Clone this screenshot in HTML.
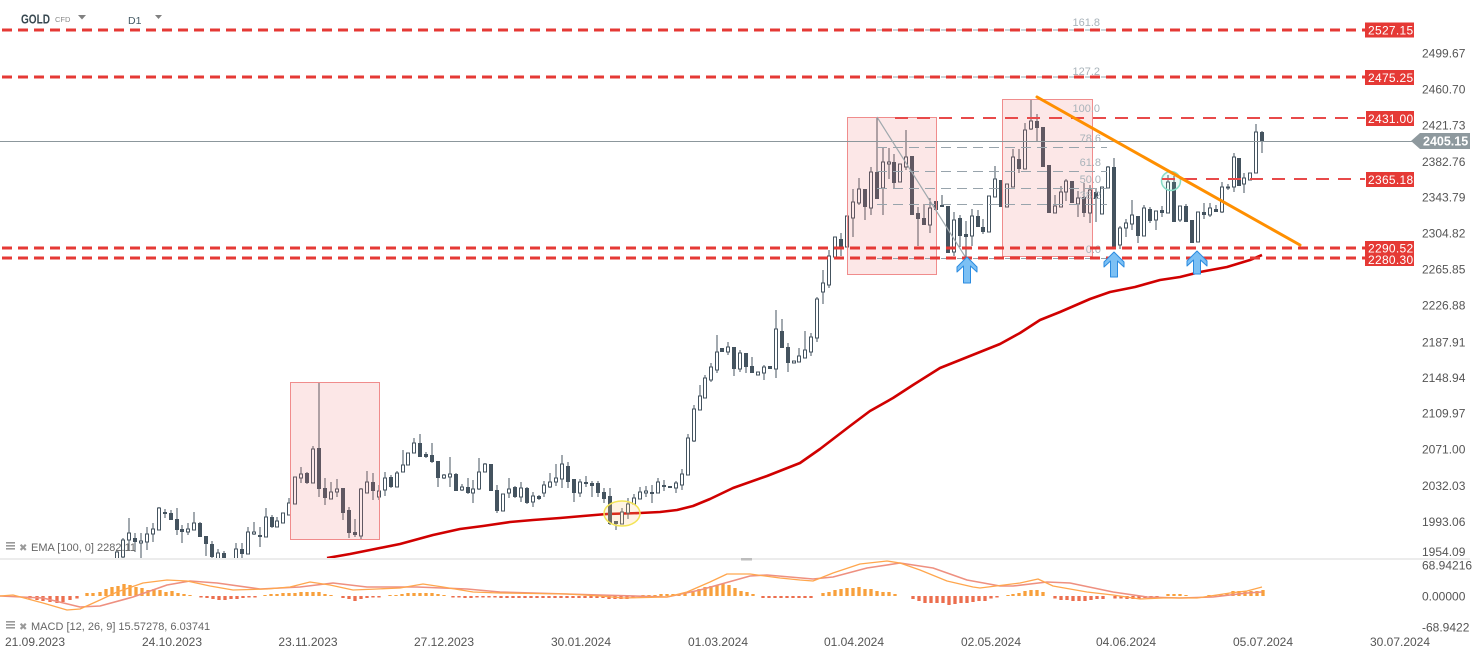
<!DOCTYPE html>
<html><head><meta charset="utf-8"><style>
html,body{margin:0;padding:0;background:#fff;overflow:hidden;}
svg{display:block;font-family:"Liberation Sans",Arial,sans-serif;}
</style></head><body>
<svg width="1482" height="658" viewBox="0 0 1482 658" xmlns="http://www.w3.org/2000/svg">
<defs><clipPath id="main"><rect x="0" y="0" width="1415" height="558"/></clipPath></defs>
<rect width="1482" height="658" fill="#fff"/>

<!-- header -->
<text x="21" y="23.5" font-size="12.5" font-weight="bold" fill="#37474f" textLength="29" lengthAdjust="spacingAndGlyphs">GOLD</text>
<text x="55" y="22" font-size="7.5" fill="#8a8a8a">CFD</text>
<polygon points="78,15 86,15 82,19.5" fill="#808080"/>
<text x="128" y="24" font-size="10.5" fill="#455a64">D1</text>
<polygon points="155,15 162,15 158.5,19" fill="#808080"/>

<g clip-path="url(#main)">
<!-- EMA -->
<polyline fill="none" stroke="#d00000" stroke-width="2.6" stroke-linejoin="round" points="327,558 350,554 370,550 400,544 433,535 460,529 483,526 510,522 533,520 560,518 583,516 607,514 640,513 660,512 677,510 693,506 710,499 733,488 767,476 800,463 820,449 850,426 870,411 893,398 913,385 940,368 960,360 980,352 1000,344 1020,333 1040,320 1060,312 1090,299 1110,292 1135,287 1160,280 1180,277 1200,272 1227,267 1250,260 1262,255"/>

<!-- wicks -->
<path fill="none" stroke="#44535f" stroke-width="1" d="M117 550V559M123 538V560M129 518V550M135 533V552M141 533V560M147 527V550M153 523V542M159 507V530M165 509V518M171 510V520M177 508V535M182 525V543M188 523V535M194 512V530M200 522V537M206 536V556M212 541V560M218 549V560M224 551V560M236 543V560M242 543V560M248 527V554M254 522V535M260 527V547M266 508V537M272 515V528M277 517V527M283 513V523M289 498V515M295 477V504M301 467V483M307 472V484M313 446V483M319 382V497M325 478V505M331 482V499M337 479V497M343 488V520M349 507V538M355 519V537M361 488V540M367 471V493M373 473V500M379 485V500M385 472V496M391 475V488M397 471V487M403 450V472M408 453V465M414 438V453M420 434V457M426 452V458M432 443V463M438 461V487M444 474V479M450 457V487M456 473V491M462 484V491M468 478V494M473 480V503M479 458V490M485 463V472M491 464V491M497 485V513M503 494V511M509 478V498M515 486V498M521 482V502M527 487V504M533 492V507M539 495V500M544 481V497M550 473V488M556 464V486M562 455V488M568 462V488M574 479V502M580 479V497M586 476V487M592 481V497M598 481V497M604 488V503M610 488V525M616 521V530M622 508V524M628 498V519M634 494V504M640 487V499M646 486V497M652 485V503M658 478V493M664 480V491M670 486V488M676 481V493M682 469V490M688 434V475M694 405V442M700 385V410M705 375V398M711 363V382M717 335V373M722 348V352M728 342V355M734 347V376M740 350V372M746 353V373M752 357V373M758 372V375M764 365V380M770 366V369M776 310V378M782 319V348M788 343V372M794 361V363M799 348V362M805 331V358M811 333V356M817 297V342M823 270V304M829 250V288M835 237V257M841 233V256M847 216V247M853 189V237M859 178V205M865 189V220M871 167V215M877 117V199M883 148V215M889 148V179M894 154V188M900 164V182M906 130V170M912 156V215M918 207V246M924 204V225M930 198V233M936 201V210M942 195V207M948 206V253M954 212V256M960 215V247M966 221V257M972 209V246M978 210V227M983 219V234M989 196V232M995 166V197M1001 180V207M1007 184V207M1013 149V187M1019 149V173M1025 123V169M1031 100V130M1037 114V141M1043 127V167M1049 165V213M1055 195V213M1061 186V207M1066 179V201M1072 181V203M1078 191V217M1084 183V217M1090 185V223M1096 188V222M1102 187V214M1108 166V188M1114 158V247M1120 226V249M1126 219V237M1132 200V230M1138 216V243M1144 205V236M1150 207V223M1156 211V230M1162 206V217M1168 175V213M1174 176V222M1180 206V222M1186 204V222M1192 220V243M1198 212V242M1204 203V219M1210 203V217M1216 205V212M1222 182V213M1228 184V190M1234 153V192M1239 158V186M1244 173V193M1250 173V180M1256 124V173M1262 131V153"/>

<!-- hollow bodies -->
<g fill="#fff" stroke="#44535f" stroke-width="1">
<rect x="115.5" y="552" width="3" height="7"/><rect x="121.5" y="540" width="3" height="17"/><rect x="127.5" y="533" width="3" height="7"/><rect x="139.5" y="541" width="3" height="2"/><rect x="145.5" y="534" width="3" height="8"/><rect x="151.5" y="529" width="3" height="5"/><rect x="157.5" y="508" width="3" height="22"/><rect x="186.5" y="529" width="3" height="3"/><rect x="192.5" y="523" width="3" height="7"/><rect x="216.5" y="553" width="3" height="7"/><rect x="234.5" y="549" width="3" height="11"/><rect x="246.5" y="532" width="3" height="22"/><rect x="252.5" y="532" width="3" height="2"/><rect x="264.5" y="517" width="3" height="20"/><rect x="275.5" y="521" width="3" height="6"/><rect x="281.5" y="513" width="3" height="10"/><rect x="287.5" y="503" width="3" height="12"/><rect x="293.5" y="477" width="3" height="27"/><rect x="299.5" y="474" width="3" height="4"/><rect x="311.5" y="449" width="3" height="34"/><rect x="329.5" y="492" width="3" height="7"/><rect x="335.5" y="489" width="3" height="3"/><rect x="359.5" y="489" width="3" height="47"/><rect x="365.5" y="482" width="3" height="11"/><rect x="377.5" y="491" width="3" height="6"/><rect x="383.5" y="478" width="3" height="12"/><rect x="395.5" y="473" width="3" height="14"/><rect x="401.5" y="465" width="3" height="7"/><rect x="406.5" y="453" width="3" height="12"/><rect x="412.5" y="443" width="3" height="10"/><rect x="442.5" y="475" width="3" height="3"/><rect x="448.5" y="474" width="3" height="3"/><rect x="460.5" y="487" width="3" height="3"/><rect x="471.5" y="489" width="3" height="4"/><rect x="477.5" y="472" width="3" height="17"/><rect x="483.5" y="464" width="3" height="8"/><rect x="501.5" y="494" width="3" height="17"/><rect x="507.5" y="489" width="3" height="4"/><rect x="519.5" y="488" width="3" height="9"/><rect x="531.5" y="496" width="3" height="6"/><rect x="542.5" y="485" width="3" height="8"/><rect x="548.5" y="482" width="3" height="5"/><rect x="554.5" y="478" width="3" height="4"/><rect x="560.5" y="464" width="3" height="15"/><rect x="578.5" y="482" width="3" height="11"/><rect x="620.5" y="512" width="3" height="12"/><rect x="626.5" y="504" width="3" height="9"/><rect x="632.5" y="498" width="3" height="6"/><rect x="638.5" y="492" width="3" height="7"/><rect x="644.5" y="491" width="3" height="2"/><rect x="656.5" y="482" width="3" height="11"/><rect x="674.5" y="483" width="3" height="5"/><rect x="680.5" y="474" width="3" height="11"/><rect x="686.5" y="438" width="3" height="37"/><rect x="692.5" y="409" width="3" height="32"/><rect x="698.5" y="396" width="3" height="14"/><rect x="703.5" y="378" width="3" height="20"/><rect x="709.5" y="367" width="3" height="13"/><rect x="715.5" y="352" width="3" height="18"/><rect x="726.5" y="347" width="3" height="5"/><rect x="738.5" y="353" width="3" height="16"/><rect x="756.5" y="372" width="3" height="3"/><rect x="762.5" y="367" width="3" height="6"/><rect x="774.5" y="329" width="3" height="40"/><rect x="792.5" y="361" width="3" height="2"/><rect x="797.5" y="356" width="3" height="6"/><rect x="803.5" y="350" width="3" height="8"/><rect x="809.5" y="337" width="3" height="15"/><rect x="815.5" y="299" width="3" height="39"/><rect x="821.5" y="283" width="3" height="9"/><rect x="827.5" y="256" width="3" height="29"/><rect x="833.5" y="237" width="3" height="20"/><rect x="845.5" y="216" width="3" height="31"/><rect x="851.5" y="202" width="3" height="16"/><rect x="857.5" y="189" width="3" height="14"/><rect x="869.5" y="172" width="3" height="36"/><rect x="881.5" y="162" width="3" height="26"/><rect x="887.5" y="162" width="3" height="2"/><rect x="898.5" y="164" width="3" height="18"/><rect x="904.5" y="157" width="3" height="10"/><rect x="928.5" y="208" width="3" height="17"/><rect x="952.5" y="220" width="3" height="32"/><rect x="970.5" y="216" width="3" height="20"/><rect x="987.5" y="196" width="3" height="36"/><rect x="993.5" y="179" width="3" height="18"/><rect x="1005.5" y="184" width="3" height="23"/><rect x="1011.5" y="157" width="3" height="30"/><rect x="1023.5" y="130" width="3" height="39"/><rect x="1029.5" y="121" width="3" height="8"/><rect x="1053.5" y="206" width="3" height="7"/><rect x="1059.5" y="192" width="3" height="15"/><rect x="1064.5" y="181" width="3" height="11"/><rect x="1076.5" y="198" width="3" height="6"/><rect x="1088.5" y="190" width="3" height="23"/><rect x="1100.5" y="187" width="3" height="27"/><rect x="1106.5" y="167" width="3" height="21"/><rect x="1118.5" y="228" width="3" height="17"/><rect x="1124.5" y="223" width="3" height="5"/><rect x="1130.5" y="215" width="3" height="9"/><rect x="1142.5" y="208" width="3" height="28"/><rect x="1154.5" y="211" width="3" height="9"/><rect x="1166.5" y="182" width="3" height="31"/><rect x="1178.5" y="206" width="3" height="14"/><rect x="1196.5" y="212" width="3" height="30"/><rect x="1208.5" y="208" width="3" height="7"/><rect x="1220.5" y="187" width="3" height="25"/><rect x="1226.5" y="187" width="3" height="1"/><rect x="1232.5" y="157" width="3" height="30"/><rect x="1242.5" y="178" width="3" height="6"/><rect x="1248.5" y="173" width="3" height="7"/><rect x="1254.5" y="132" width="3" height="41"/>
</g>
<!-- filled bodies -->
<g fill="#44535f">
<rect x="133" y="538" width="4" height="4"/><rect x="163" y="512" width="4" height="2"/><rect x="169" y="513" width="4" height="7"/><rect x="175" y="519" width="4" height="11"/><rect x="180" y="529" width="4" height="3"/><rect x="198" y="523" width="4" height="14"/><rect x="204" y="536" width="4" height="8"/><rect x="210" y="544" width="4" height="13"/><rect x="222" y="553" width="4" height="7"/><rect x="240" y="549" width="4" height="5"/><rect x="258" y="535" width="4" height="2"/><rect x="270" y="517" width="4" height="10"/><rect x="305" y="473" width="4" height="10"/><rect x="317" y="448" width="4" height="41"/><rect x="323" y="488" width="4" height="10"/><rect x="341" y="488" width="4" height="25"/><rect x="347" y="510" width="4" height="23"/><rect x="353" y="532" width="4" height="3"/><rect x="371" y="482" width="4" height="9"/><rect x="389" y="477" width="4" height="10"/><rect x="418" y="443" width="4" height="14"/><rect x="424" y="454" width="4" height="3"/><rect x="430" y="455" width="4" height="7"/><rect x="436" y="461" width="4" height="17"/><rect x="454" y="474" width="4" height="17"/><rect x="466" y="487" width="4" height="6"/><rect x="489" y="464" width="4" height="27"/><rect x="495" y="490" width="4" height="21"/><rect x="513" y="487" width="4" height="10"/><rect x="525" y="488" width="4" height="15"/><rect x="537" y="496" width="4" height="3"/><rect x="566" y="466" width="4" height="16"/><rect x="572" y="479" width="4" height="14"/><rect x="584" y="482" width="4" height="2"/><rect x="590" y="483" width="4" height="3"/><rect x="596" y="483" width="4" height="10"/><rect x="602" y="492" width="4" height="7"/><rect x="608" y="496" width="4" height="28"/><rect x="614" y="521" width="4" height="3"/><rect x="650" y="492" width="4" height="2"/><rect x="662" y="485" width="4" height="2"/><rect x="668" y="486" width="4" height="2"/><rect x="720" y="348" width="4" height="4"/><rect x="732" y="347" width="4" height="22"/><rect x="744" y="353" width="4" height="14"/><rect x="750" y="366" width="4" height="7"/><rect x="768" y="366" width="4" height="3"/><rect x="780" y="331" width="4" height="17"/><rect x="786" y="347" width="4" height="16"/><rect x="839" y="239" width="4" height="8"/><rect x="863" y="189" width="4" height="18"/><rect x="875" y="172" width="4" height="27"/><rect x="892" y="162" width="4" height="21"/><rect x="910" y="156" width="4" height="59"/><rect x="916" y="213" width="4" height="6"/><rect x="922" y="218" width="4" height="7"/><rect x="934" y="201" width="4" height="9"/><rect x="940" y="205" width="4" height="2"/><rect x="946" y="206" width="4" height="47"/><rect x="958" y="218" width="4" height="18"/><rect x="964" y="234" width="4" height="3"/><rect x="976" y="216" width="4" height="11"/><rect x="981" y="227" width="4" height="5"/><rect x="999" y="180" width="4" height="27"/><rect x="1017" y="159" width="4" height="10"/><rect x="1035" y="121" width="4" height="7"/><rect x="1041" y="127" width="4" height="40"/><rect x="1047" y="165" width="4" height="48"/><rect x="1070" y="181" width="4" height="22"/><rect x="1082" y="197" width="4" height="16"/><rect x="1094" y="192" width="4" height="7"/><rect x="1112" y="167" width="4" height="80"/><rect x="1136" y="216" width="4" height="20"/><rect x="1148" y="209" width="4" height="12"/><rect x="1160" y="210" width="4" height="3"/><rect x="1172" y="182" width="4" height="40"/><rect x="1184" y="206" width="4" height="16"/><rect x="1190" y="220" width="4" height="23"/><rect x="1202" y="212" width="4" height="3"/><rect x="1214" y="209" width="4" height="3"/><rect x="1237" y="158" width="4" height="28"/><rect x="1260" y="132" width="4" height="9"/>
</g>

<!-- pink boxes -->
<g fill="rgba(238,110,110,0.17)" stroke="#f08c8c" stroke-width="1">
<rect x="290.5" y="382.5" width="89" height="157"/>
<rect x="847.5" y="117.5" width="89" height="157"/>
<rect x="1002.5" y="99.5" width="90" height="157"/>
</g>

<!-- yellow ellipse & teal circle -->
<ellipse cx="622" cy="513.5" rx="18" ry="12.5" fill="rgba(255,205,130,0.22)" stroke="#f3e456" stroke-width="1.5"/>
<circle cx="1171" cy="181" r="9.5" fill="rgba(120,215,190,0.12)" stroke="#86dcc6" stroke-width="1.5"/>

<!-- current price line -->
<line x1="0" y1="141.5" x2="1412" y2="141.5" stroke="#8c979c" stroke-width="1"/>

<!-- fib gray -->
<line x1="877" y1="117" x2="966" y2="258" stroke="#9fa8ad" stroke-width="1.2"/>
<g stroke="#98a4ac" stroke-width="1" stroke-dasharray="10,6" fill="none">
<line x1="877" y1="30" x2="1116" y2="30"/>
<line x1="877" y1="77" x2="1116" y2="77"/>
<line x1="877" y1="147.5" x2="1107" y2="147.5"/>
<line x1="877" y1="171.5" x2="1107" y2="171.5"/>
<line x1="877" y1="188.5" x2="1107" y2="188.5"/>
<line x1="877" y1="204.5" x2="1107" y2="204.5"/>
<line x1="877" y1="258.5" x2="1107" y2="258.5"/>
</g>
<g font-size="11" fill="#a9b3ba" text-anchor="end">
<text x="1100" y="26">161.8</text>
<text x="1100" y="75">127.2</text>
<text x="1100" y="112">100.0</text>
<text x="1101" y="142">78.6</text>
<text x="1101" y="166">61.8</text>
<text x="1101" y="183">50.0</text>
<text x="1101" y="199">38.2</text>
<text x="1101" y="253">0.0</text>
</g>

<!-- red dashed levels -->
<g stroke="#e53935" fill="none">
<line x1="2" y1="30" x2="1365" y2="30" stroke-width="3" stroke-dasharray="10,6"/>
<line x1="2" y1="77" x2="1365" y2="77" stroke-width="3" stroke-dasharray="10,6"/>
<line x1="895" y1="118" x2="1365" y2="118" stroke-width="2" stroke-dasharray="13,9" stroke="#e84a4a"/>
<line x1="1162" y1="179" x2="1365" y2="179" stroke-width="2" stroke-dasharray="13,9" stroke="#e84a4a"/>
<line x1="2" y1="248" x2="1365" y2="248" stroke-width="3" stroke-dasharray="10,6"/>
<line x1="2" y1="258" x2="1365" y2="258" stroke-width="3" stroke-dasharray="10,6"/>
</g>

<!-- orange trendline -->
<line x1="1037" y1="97" x2="1300" y2="245" stroke="#ff8f00" stroke-width="3" stroke-linecap="round"/>

<!-- blue arrows -->
<g fill="#7cc0f4" stroke="#2b8be0" stroke-width="1" stroke-linejoin="round">
<polygon points="967,257 977,267 977,272 970.5,266 970.5,283 963.5,283 963.5,266 957,272 957,267"/>
<polygon points="1114,252 1124,262 1124,267 1117.5,261 1117.5,277 1110.5,277 1110.5,261 1104,267 1104,262"/>
<polygon points="1197,251 1207,261 1207,266 1200.5,260 1200.5,274 1193.5,274 1193.5,260 1187,266 1187,261"/>
</g>
</g>

<!-- right labels -->
<g font-size="12" fill="#fff" letter-spacing="0.3">
<rect x="1365" y="22.5" width="49" height="15" fill="#e53935"/><text x="1368" y="34.5">2527.15</text>
<rect x="1365" y="70" width="49" height="15" fill="#e53935"/><text x="1368" y="82">2475.25</text>
<rect x="1366" y="111" width="48" height="15" fill="#e53935"/><text x="1368" y="123">2431.00</text>
<rect x="1366" y="172" width="48" height="15" fill="#e53935"/><text x="1368" y="184">2365.18</text>
<rect x="1365" y="251" width="49" height="15" fill="#e53935"/><text x="1368" y="264">2280.30</text>
<rect x="1365" y="241" width="49" height="14" fill="#e53935"/><text x="1368" y="252.5">2290.52</text>
</g>
<polygon points="1411,141 1420,133 1470,133 1470,149 1420,149" fill="#8e999e"/>
<text x="1423" y="145.5" font-size="12.5" font-weight="bold" fill="#fff">2405.15</text>

<g font-size="12" fill="#555">
<text x="1422" y="57.3">2499.67</text>
<text x="1422" y="93.3">2460.70</text>
<text x="1422" y="129.3">2421.73</text>
<text x="1422" y="166">2382.76</text>
<text x="1422" y="201.3">2343.79</text>
<text x="1422" y="237.3">2304.82</text>
<text x="1422" y="273.3">2265.85</text>
<text x="1422" y="309.3">2226.88</text>
<text x="1422" y="346.5">2187.91</text>
<text x="1422" y="382">2148.94</text>
<text x="1422" y="417.5">2109.97</text>
<text x="1422" y="453.5">2071.00</text>
<text x="1422" y="490">2032.03</text>
<text x="1422" y="526">1993.06</text>
<text x="1422" y="556">1954.09</text>
<text x="1422" y="569.5">68.94216</text>
<text x="1422" y="600.5">0.00000</text>
<text x="1422" y="631.5">-68.9422</text>
</g>

<!-- EMA label -->
<g fill="#9a9a9a">
<rect x="6" y="542" width="9" height="1.6"/><rect x="6" y="545" width="9" height="1.6"/><rect x="6" y="548" width="9" height="1.6"/>
<rect x="6" y="621" width="9" height="1.6"/><rect x="6" y="624" width="9" height="1.6"/><rect x="6" y="627" width="9" height="1.6"/>
</g>
<text x="19" y="551" font-size="10" fill="#9a9a9a" font-family="DejaVu Sans, sans-serif">✖</text>
<text x="19" y="630" font-size="10" fill="#9a9a9a" font-family="DejaVu Sans, sans-serif">✖</text>
<text x="31" y="551" font-size="11" fill="#666">EMA [100, 0] 2282.11</text>
<text x="31" y="630" font-size="11" fill="#666">MACD [12, 26, 9] 15.57278, 6.03741</text>

<!-- separator -->
<line x1="0" y1="559" x2="1470" y2="559" stroke="#d9d9d9" stroke-width="1"/>
<rect x="741" y="558" width="11" height="2.5" fill="#bdbdbd"/>

<!-- MACD histogram -->
<path fill="none" stroke="#ec6e4e" stroke-width="3.3" d="M30 596V598.5M37 596V600M43 596V601M50 596V602M57 596V603M63 596V602M70 596V600M77 596V598.5M201 596V597.5M207 596V598M213 596V599M219 596V600M225 596V600M231 596V599M237 596V599M243 596V598M249 596V597.5M255 596V597.5M343 596V598M349 596V599M355 596V601M361 596V599M367 596V598M373 596V597.5M379 596V597.5M453 596V597.5M459 596V597.5M465 596V598M471 596V598M477 596V597.5M483 596V597.5M489 596V597.5M495 596V597.5M501 596V598M507 596V598M513 596V598M519 596V598M525 596V598M531 596V598M537 596V598M543 596V598M549 596V598M555 596V598M561 596V598M567 596V598M573 596V598M579 596V598M585 596V598M591 596V598M597 596V598M603 596V598M609 596V599M615 596V599M621 596V599M627 596V599M633 596V598M763 596V598M769 596V598M775 596V598M781 596V598M787 596V598M793 596V598M799 596V598M805 596V598M811 596V598M913 596V599M919 596V601M925 596V603M931 596V603M937 596V603M943 596V603M949 596V605M955 596V604M961 596V603M967 596V603M973 596V602M979 596V601M985 596V601M991 596V598.5M997 596V597.5M1055 596V598.5M1061 596V600M1067 596V600M1073 596V601M1079 596V601M1085 596V601M1091 596V600M1097 596V599M1103 596V599M1115 596V598.5M1121 596V598.5M1127 596V599M1133 596V599M1139 596V598.5M1145 596V598M1151 596V598M1157 596V597.5"/>
<path fill="none" stroke="#f8a03c" stroke-width="3.3" d="M87 596V593M93 596V593M100 596V592M106 596V589M112 596V587M118 596V586M124 596V584M130 596V585M136 596V587M142 596V588M148 596V590M154 596V589M160 596V590M166 596V592M172 596V591M178 596V593M184 596V594M190 596V595M265 596V595M271 596V594M277 596V594M283 596V593M289 596V593M295 596V593M301 596V592M307 596V592M313 596V592M319 596V592M325 596V594M331 596V595M390 596V595M396 596V595M402 596V594M408 596V593M414 596V593M420 596V593M426 596V593M432 596V593M438 596V594M444 596V595M643 596V595M649 596V595M655 596V595M661 596V594M667 596V594M673 596V594M679 596V594M685 596V593M693 596V592M699 596V589M705 596V587M711 596V586M717 596V585M723 596V584M729 596V585M735 596V588M741 596V591M747 596V592M753 596V594M823 596V593M829 596V592M835 596V590M841 596V589M847 596V588M853 596V588M859 596V587M865 596V589M871 596V589M877 596V591M883 596V592M889 596V592M895 596V594M1008 596V595M1013 596V594M1019 596V593M1025 596V591M1031 596V590M1037 596V590M1043 596V592M1168 596V594M1174 596V594M1180 596V594M1186 596V595M1209 596V595M1215 596V595M1221 596V594M1227 596V593M1233 596V591M1239 596V591M1245 596V591M1251 596V591M1257 596V591M1263 596V590"/>

<!-- MACD lines -->
<polyline fill="none" stroke="#ee9080" stroke-width="1.6" stroke-linejoin="round" points="0,596 43,598 80,607 100,606 133,597 167,585 190,581 217,583 260,589 300,587 333,583 367,587 417,587 467,589 500,592 600,595 667,597 700,590 750,576 767,575 813,579 833,577 867,568 900,563 933,568 967,580 1000,586 1013,586 1047,582 1070,583 1113,592 1147,597 1180,598 1213,597 1247,593 1262,592"/>
<polyline fill="none" stroke="#ffa64d" stroke-width="1.3" stroke-linejoin="round" points="0,596 13,595 43,603 67,610 80,609 100,600 117,592 143,583 167,580 187,581 210,586 233,590 267,589 290,587 310,582 330,585 353,590 377,589 400,588 423,584 443,587 473,592 500,593 567,594 600,596 623,598 667,597 687,592 710,582 727,574 750,574 780,578 800,580 813,581 833,573 860,564 887,561 900,563 920,570 947,581 973,587 980,588 1020,583 1038,579 1053,586 1087,592 1113,595 1140,599 1163,598 1197,598 1230,593 1247,591 1262,587"/>

<!-- dates -->
<g font-size="12" fill="#555" text-anchor="middle">
<text x="35" y="646">21.09.2023</text>
<text x="172" y="646">24.10.2023</text>
<text x="308" y="646">23.11.2023</text>
<text x="444" y="646">27.12.2023</text>
<text x="581" y="646">30.01.2024</text>
<text x="718" y="646">01.03.2024</text>
<text x="854" y="646">01.04.2024</text>
<text x="991" y="646">02.05.2024</text>
<text x="1126" y="646">04.06.2024</text>
<text x="1263" y="646">05.07.2024</text>
<text x="1400" y="646">30.07.2024</text>
</g>
</svg>
</body></html>
